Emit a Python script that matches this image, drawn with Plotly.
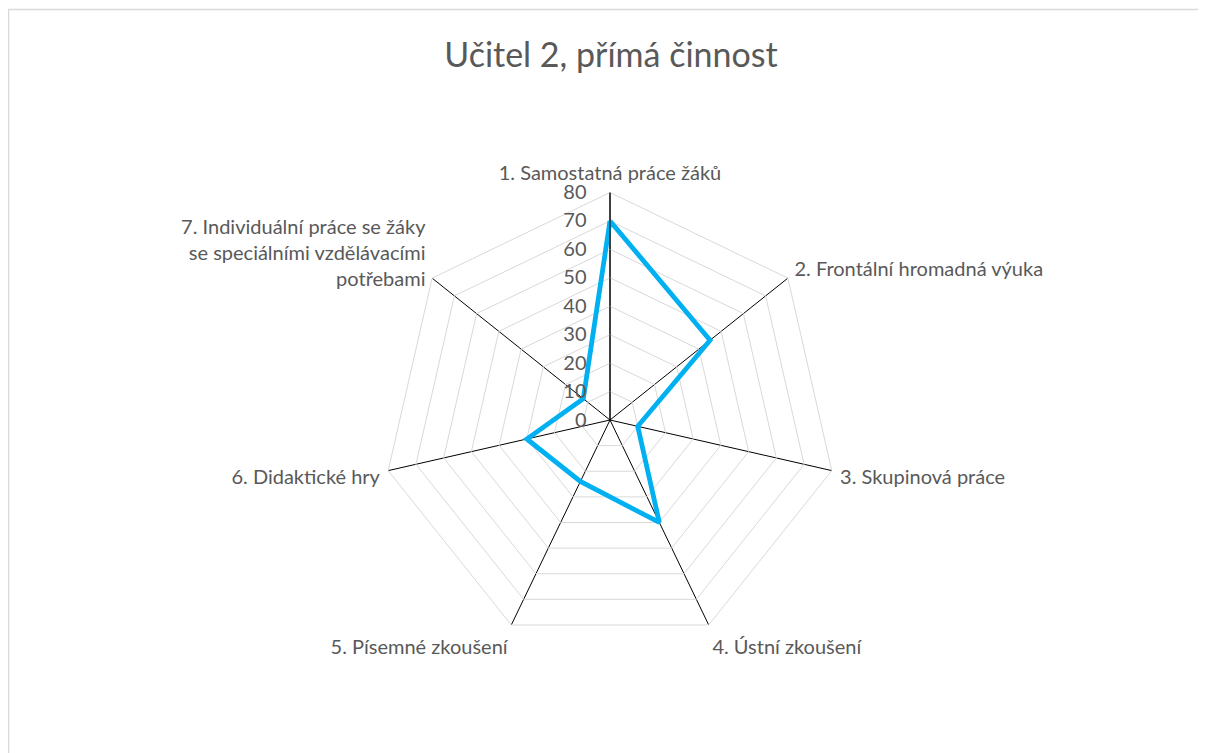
import plotly.graph_objects as go

categories = [
    "1. Samostatná práce žáků",
    "2. Frontální hromadná výuka",
    "3. Skupinová práce",
    "4. Ústní zkoušení",
    "5. Písemné zkoušení",
    "6. Didaktické hry",
    "7. Individuální práce se žáky<br>se speciálními vzdělávacími<br>potřebami",
]
values = [70, 45, 10, 40, 24, 30, 12]
radial_ticks = [0, 10, 20, 30, 40, 50, 60, 70, 80]

W, H = 1206, 753
cx, cy, R = 602, 412, 227.5

fig = go.Figure()
fig.add_trace(go.Scatterpolar(
    r=values + values[:1],
    theta=categories + categories[:1],
    mode="lines",
    line=dict(color="#00b0f0", width=4.8),
    showlegend=False,
))

fig.update_layout(
    width=W, height=H,
    margin=dict(l=0, r=0, t=0, b=0),
    paper_bgcolor="white",
    font=dict(family="Lato, 'Open Sans', sans-serif", color="#595959", size=20),
    title=dict(text="Učitel 2, přímá činnost", x=0.5, xanchor="center",
               y=1 - 47 / H, yanchor="middle",
               font=dict(size=34, color="#595959")),
    polar=dict(
        domain=dict(x=[(cx - R) / W, (cx + R) / W], y=[1 - (cy + R) / H, 1 - (cy - R) / H]),
        gridshape="linear",
        bgcolor="white",
        angularaxis=dict(
            rotation=90, direction="clockwise",
            categoryorder="array", categoryarray=categories,
            showline=True, linecolor="#d9d9d9", linewidth=1,
            showgrid=True, gridcolor="black", gridwidth=1,
            ticks="outside", ticklen=4, tickcolor="rgba(0,0,0,0)",
            tickfont=dict(size=20, color="#595959"),
        ),
        radialaxis=dict(
            range=[0, 80], tickvals=radial_ticks, angle=90, tickangle=90,
            side="counterclockwise",
            showline=True, linecolor="black", linewidth=1,
            gridcolor="#d9d9d9", gridwidth=1.3,
            ticks="outside", ticklen=16, tickcolor="rgba(0,0,0,0)",
            tickfont=dict(size=20, color="#595959"),
        ),
    ),
    shapes=[dict(type="rect", xref="paper", yref="paper",
                 x0=0.5 / W, x1=1, y0=0, y1=1 - 1.5 / H,
                 line=dict(color="#d9d9d9", width=1.5))],
)

fig.write_html("out.html")
